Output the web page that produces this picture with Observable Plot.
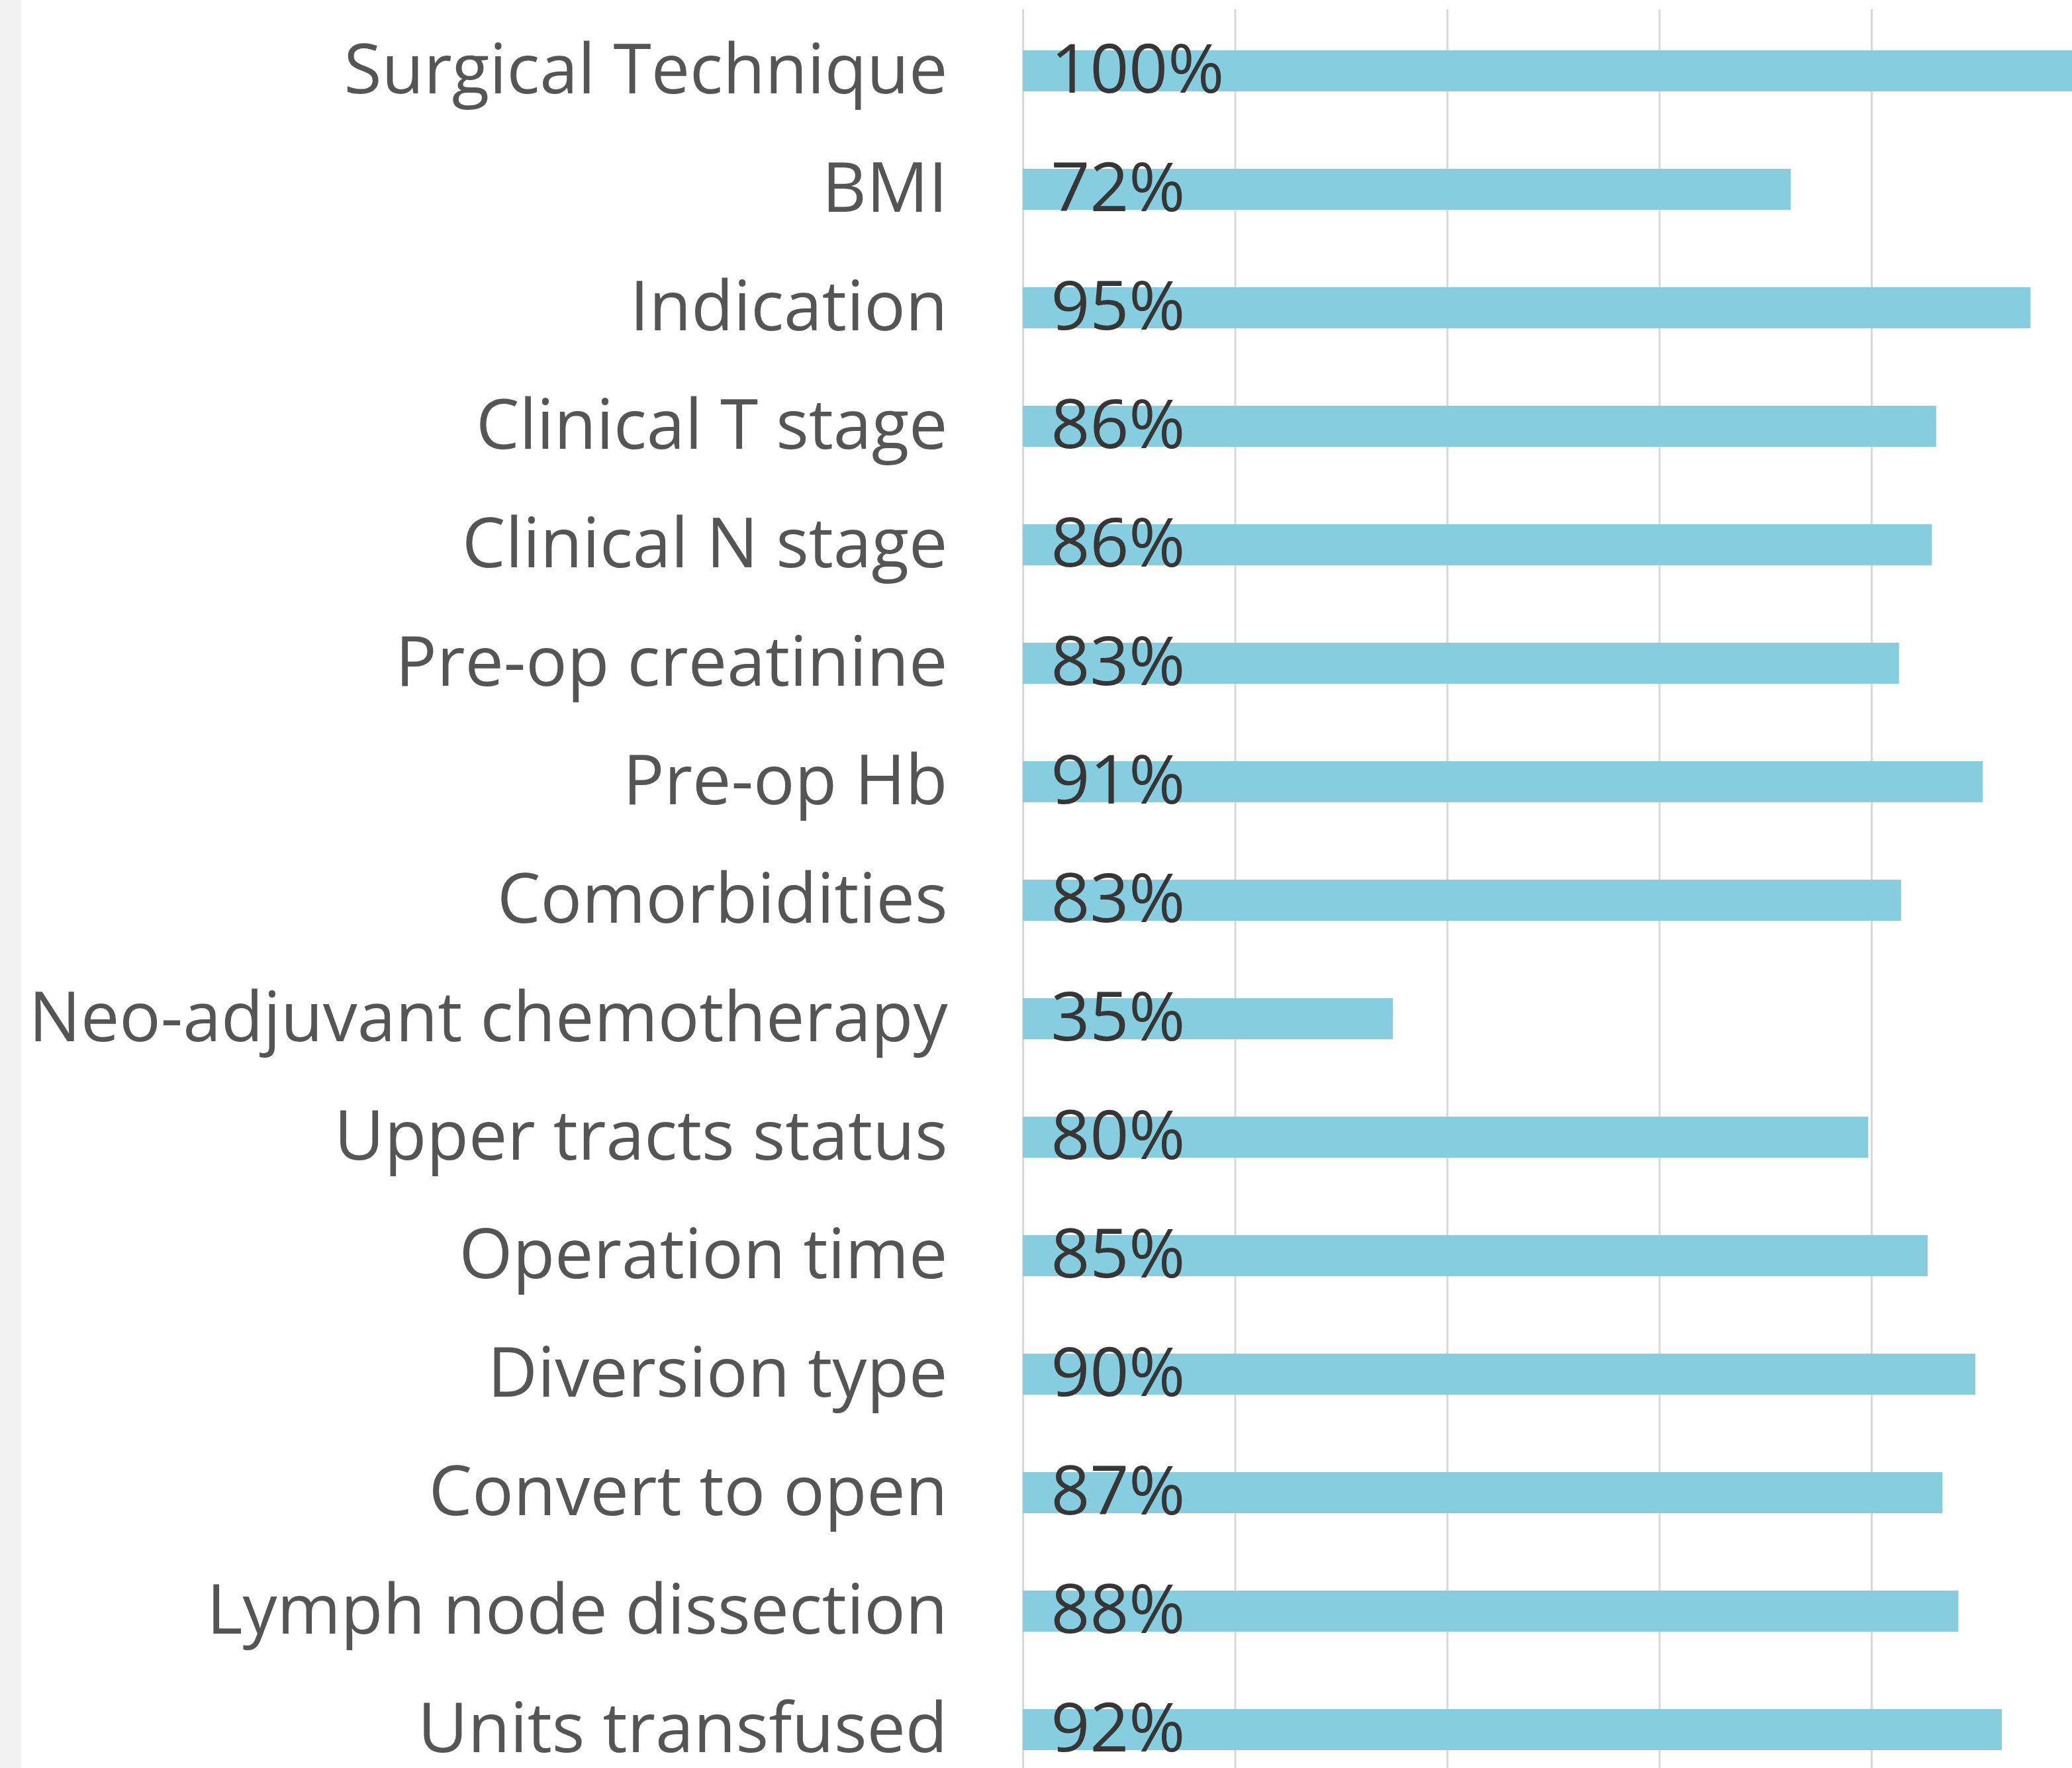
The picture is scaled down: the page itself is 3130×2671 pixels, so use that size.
<!DOCTYPE html>
<html>
<head>
<meta charset="utf-8">
<script src="https://cdn.jsdelivr.net/npm/d3@7"></script>
<script src="https://cdn.jsdelivr.net/npm/@observablehq/plot@0.6"></script>
<style>
  html, body { margin: 0; padding: 0; background: #f2f2f2; }
  #wrap { position: absolute; left: 32px; top: 0; width: 3098px; height: 2671px; background: #ffffff; overflow: hidden; }
</style>
</head>
<body>
<div id="wrap"></div>
<script>
const categories = [
  "Surgical Technique", "BMI", "Indication", "Clinical T stage", "Clinical N stage",
  "Pre-op creatinine", "Pre-op Hb", "Comorbidities", "Neo-adjuvant chemotherapy",
  "Upper tracts status", "Operation time", "Diversion type", "Convert to open",
  "Lymph node dissection", "Units transfused"
];
const values = [1.00, 0.724, 0.95, 0.861, 0.857, 0.826, 0.905, 0.828, 0.349, 0.797, 0.853, 0.898, 0.867, 0.882, 0.923];
const xTicks = [0, 0.2, 0.4, 0.6, 0.8, 1.0];

const data = categories.map((c, i) => ({category: c, value: values[i]}));

const W = 3098, H = 2671;
const fontFam = "'Open Sans', Lato, sans-serif";

const chart = Plot.plot({
  width: W,
  height: H,
  marginLeft: 1513,
  marginRight: 0,
  marginTop: 14,
  marginBottom: 0,
  style: {background: "transparent", fontFamily: fontFam, overflow: "hidden"},
  x: {domain: [0, 1], range: [1513, 3115.5], axis: null},
  y: {domain: categories, range: [14.3, 2704.7], paddingInner: 0.655, paddingOuter: 0.3275, axis: null},
  marks: [
    Plot.ruleX(xTicks, {stroke: "#d9d9d9", strokeWidth: 3}),
    Plot.barX(data, {y: "category", x: "value", fill: "#86cde0"}),
    Plot.axisY({anchor: "left", label: null, tickSize: 0, tickPadding: 114, fontSize: 104, fill: "#555555", fontFamily: fontFam}),
    Plot.text(data, {
      y: "category", x: 0, dx: 42, textAnchor: "start",
      text: d => Math.round(d.value * 100) + "%",
      fontSize: 103, fill: "#363636", fontFamily: fontFam
    })
  ]
});
document.getElementById("wrap").appendChild(chart);
</script>
</body>
</html>
